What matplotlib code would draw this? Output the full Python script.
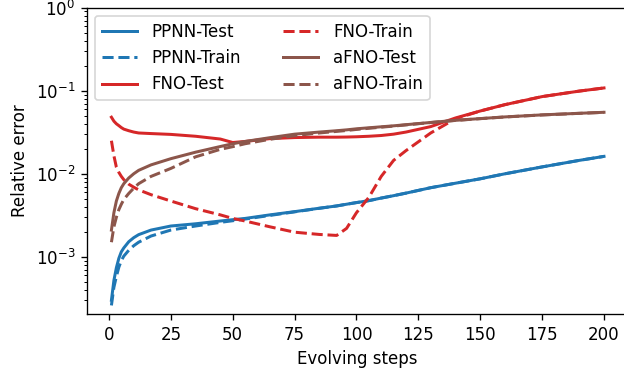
import numpy as np
import matplotlib
matplotlib.use('Agg')
import matplotlib.pyplot as plt

steps = [1, 2, 3, 4, 5, 6, 8, 10, 12, 17, 25, 35, 45, 50, 55, 65, 75, 85, 92,
         96, 100, 105, 110, 115, 120, 130, 140, 150, 160, 175, 190, 200]

ppnn_test = [3.0e-4, 5.2e-4, 7.4e-4, 9.6e-4, 1.15e-3, 1.28e-3, 1.52e-3, 1.7e-3,
             1.85e-3, 2.1e-3, 2.35e-3, 2.5e-3, 2.7e-3, 2.8e-3, 2.9e-3, 3.2e-3,
             3.5e-3, 3.85e-3, 4.1e-3, 4.3e-3, 4.5e-3, 4.75e-3, 5.1e-3, 5.45e-3,
             5.85e-3, 6.8e-3, 7.7e-3, 8.7e-3, 1.0e-2, 1.21e-2, 1.45e-2, 1.62e-2]
ppnn_train = [2.6e-4, 4.3e-4, 5.8e-4, 7.5e-4, 9.0e-4, 1.02e-3, 1.2e-3, 1.36e-3,
              1.5e-3, 1.78e-3, 2.1e-3, 2.35e-3, 2.6e-3, 2.72e-3, 2.85e-3, 3.15e-3,
              3.48e-3, 3.84e-3, 4.1e-3, 4.3e-3, 4.5e-3, 4.75e-3, 5.1e-3, 5.45e-3,
              5.85e-3, 6.8e-3, 7.7e-3, 8.7e-3, 1.0e-2, 1.21e-2, 1.45e-2, 1.62e-2]
fno_test = [0.048, 0.043, 0.040, 0.038, 0.036, 0.0345, 0.033, 0.0318, 0.031,
            0.0305, 0.0298, 0.0283, 0.0262, 0.0238, 0.0245, 0.0265, 0.0273,
            0.0276, 0.0276, 0.0277, 0.0279, 0.0283, 0.0289, 0.030, 0.0318, 0.037,
            0.047, 0.057, 0.068, 0.085, 0.099, 0.108]
fno_train = [0.025, 0.0165, 0.012, 0.0104, 0.0093, 0.0085, 0.0075, 0.0069,
             0.0064, 0.0056, 0.0047, 0.0038, 0.0032, 0.0029, 0.0027, 0.0023,
             0.00198, 0.00186, 0.00181, 0.0022, 0.0034, 0.0052, 0.0093, 0.0145,
             0.019, 0.031, 0.046, 0.057, 0.068, 0.085, 0.099, 0.108]
afno_test = [0.0021, 0.0034, 0.0047, 0.0058, 0.0068, 0.0076, 0.0089, 0.0100,
             0.0110, 0.0128, 0.0152, 0.0182, 0.0213, 0.0230, 0.0245, 0.0272,
             0.0300, 0.0318, 0.0330, 0.0338, 0.0348, 0.0358, 0.0368, 0.0378,
             0.0390, 0.0415, 0.0440, 0.0462, 0.0484, 0.0512, 0.0535, 0.0550]
afno_train = [0.0015, 0.0023, 0.0030, 0.0037, 0.0043, 0.0049, 0.0058, 0.0067,
              0.0076, 0.0093, 0.0116, 0.0160, 0.0197, 0.0212, 0.0230, 0.0260,
              0.0288, 0.0310, 0.0324, 0.0332, 0.0342, 0.0353, 0.0364, 0.0375,
              0.0388, 0.0414, 0.0439, 0.0461, 0.0483, 0.0511, 0.0534, 0.0549]

fig = plt.figure(figsize=(5.2, 3.125), dpi=120)
ax = fig.add_axes([0.1391, 0.1627, 0.8683, 0.8168])

lw = 1.8
ax.plot(steps, ppnn_test, '-', color='tab:blue', lw=lw, label='PPNN-Test')
ax.plot(steps, ppnn_train, '--', color='tab:blue', lw=lw, label='PPNN-Train')
ax.plot(steps, fno_test, '-', color='tab:red', lw=lw, label='FNO-Test')
ax.plot(steps, fno_train, '--', color='tab:red', lw=lw, label='FNO-Train')
ax.plot(steps, afno_test, '-', color='tab:brown', lw=lw, label='aFNO-Test')
ax.plot(steps, afno_train, '--', color='tab:brown', lw=lw, label='aFNO-Train')

ax.set_yscale('log')
ax.set_ylim(2.05e-4, 1)
ax.set_xticks([0, 25, 50, 75, 100, 125, 150, 175, 200])
ax.set_xlabel('Evolving steps')
ax.set_ylabel('Relative error')
ax.legend(loc='upper left', ncol=2, handlelength=2.1, handletextpad=0.9,
          columnspacing=2.5)

fig.savefig('out.png', dpi=120)
plt.close()
